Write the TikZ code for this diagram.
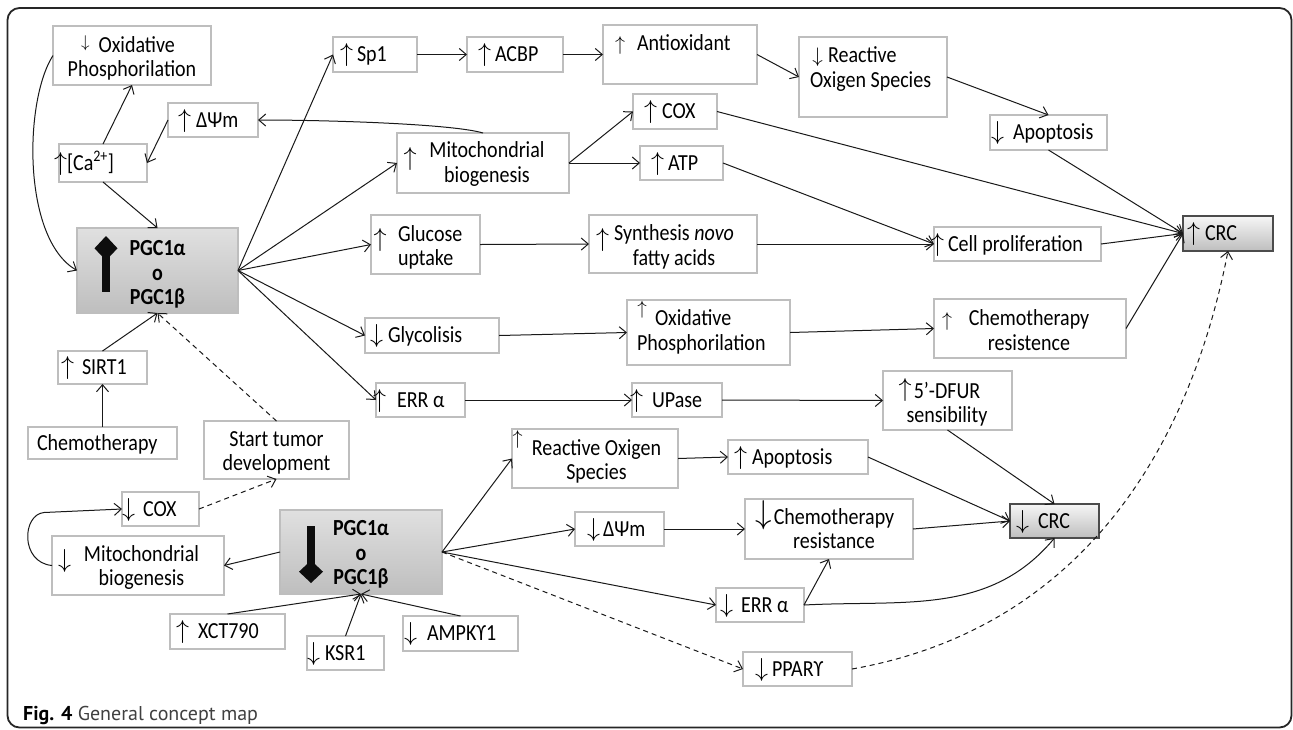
\RequirePackage{fix-cm}
\documentclass[tikz,border=0pt]{standalone}
\usepackage{fontspec}
\setmainfont{Carlito}[FakeStretch=0.87]
\newfontfamily\capfont{PT Sans}
\usetikzlibrary{arrows.meta}
\definecolor{boxgray}{RGB}{190,190,190}
\definecolor{pgctop}{RGB}{224,224,224}
\definecolor{pgcbot}{RGB}{190,190,190}
\definecolor{crctop}{RGB}{246,246,246}
\definecolor{crcbot}{RGB}{190,190,190}
\newcommand\mainfs{\fontsize{23}{24.5}\selectfont}
\newcommand\ArU{{\fontsize{26}{26}\selectfont$\uparrow$}}
\newcommand\ArD{{\fontsize{26}{26}\selectfont$\downarrow$}}
\newcommand\ArUm{{\fontsize{20}{20}\selectfont$\uparrow$}}
\newcommand\ArDm{{\fontsize{21}{21}\selectfont$\downarrow$}}
\newcommand\ArUs{{\fontsize{19}{19}\selectfont$\uparrow$}}
\newcommand\ArDs{{\fontsize{17}{17}\selectfont$\downarrow$}}
\newcommand\ArDL{{\fontsize{33}{33}\selectfont$\downarrow$}}
\newcommand\Bx[6][]{%
  \pgfmathsetmacro\bxw{#5-#3}\pgfmathsetmacro\bxh{#6-#4}%
  \node[bx,#1,minimum width=\bxw pt,minimum height=\bxh pt] (#2) at ({(#3+#5)/2},{(#4+#6)/2}) {};}
\tikzset{
  bx/.style={draw=boxgray, line width=1.3pt, fill=white, inner sep=0pt, outer sep=0pt},
  pgcbox/.style={draw=boxgray, top color=pgctop, bottom color=pgcbot},
  crcbox/.style={draw=black!70, top color=crctop, bottom color=crcbot},
  txt/.style={inner sep=0pt, outer sep=0pt, font=\mainfs},
  ar/.style={draw=black!90, line width=1pt, -{Straight Barb[length=7pt,width=12pt,line width=1pt]}},
  dsh/.style={dash pattern=on 5pt off 4pt},
  frame/.style={draw=black!85, line width=1.8pt, rounded corners=12pt},
  blockarrow/.style={fill=black!95}
}
\begin{document}
\begin{tikzpicture}[x=1pt,y=-1pt]
\useasboundingbox (0,0) rectangle (1293,729);
\fill[white] (0,0) rectangle (1293,729);
\draw[frame] (7.5,8) rectangle (1291.5,727.5);

% ---------- boxes ----------
\Bx{ox1}{53}{26}{211}{85}
\Bx{dpsi1}{168}{103}{258}{137}
\Bx{ca}{59}{144}{147}{182}
\Bx[pgcbox]{pgc1}{77}{228}{238}{313}
\Bx{sirt}{58}{351}{147}{384}
\Bx{chemo}{28}{427}{177}{459}
\Bx{start}{204}{421}{349}{479}
\Bx{cox2}{122}{492}{199}{526}
\Bx{mito2}{52}{536}{224}{595}
\Bx[pgcbox]{pgc2}{280}{510}{442}{594}
\Bx{xct}{170}{614}{285}{649}
\Bx{ksr}{307}{636}{384}{670}
\Bx{ampk}{403}{616}{518}{651}
\Bx{sp1}{333}{37}{417}{72}
\Bx{acbp}{467}{37}{563}{72}
\Bx{antiox}{603}{25}{757}{84}
\Bx{ros1}{799}{37}{947}{117}
\Bx{cox1}{633}{94}{717}{129}
\Bx{atp}{640}{146}{723}{180}
\Bx{mito1}{397}{133}{569}{193}
\Bx{gluc}{371}{215}{480}{274}
\Bx{synth}{589}{215}{757}{273}
\Bx{apo1}{990}{115}{1107}{150}
\Bx[crcbox]{crc1}{1183}{216}{1273}{251}
\Bx{cellp}{934}{227}{1101}{261}
\Bx{glyc}{365}{318}{499}{353}
\Bx{ox2}{627}{300}{790}{365}
\Bx{chemres1}{934}{299}{1126}{358}
\Bx{err1}{376}{383}{465}{417}
\Bx{upase}{632}{383}{722}{417}
\Bx{dfur}{883}{371}{1012}{430}
\Bx{ros2}{512}{429}{678}{488}
\Bx{apo2}{728}{440}{868}{474}
\Bx{dpsi2}{575}{512}{664}{546}
\Bx{chemres2}{745}{499}{913}{559}
\Bx{err2}{716}{588}{804}{622}
\Bx{ppar}{743}{652}{852}{686}
\Bx[crcbox]{crc2}{1010}{504}{1099}{538}

% ---------- block arrows in PGC boxes ----------
\fill[blockarrow] (101.7,255) rectangle (110,292.3);
\fill[blockarrow] (106,236) -- (117.5,248.3) -- (106,260.5) -- (94.5,248.3) -- cycle;
\fill[blockarrow] (306.7,526) rectangle (315,565);
\fill[blockarrow] (311,583) -- (323,571.7) -- (311,560.4) -- (299,571.7) -- cycle;

% ---------- single-line texts ----------
\node[txt,anchor=base west] (dpsi1t) at (196,127.3) {\llap{\ArU\hspace{5pt}}ΔΨm};
\node[txt,anchor=base west] (cat) at (67,170.3) {\llap{\ArU\hspace{0pt}}[Ca\textsuperscript{2+}]};
\node[txt,anchor=base west] (sirtt) at (82,374.8) {\llap{\ArU\hspace{8pt}}SIRT1};
\node[txt,anchor=base west] (chemot) at (37,450.3) {Chemotherapy};
\node[txt,anchor=base west] (cox2t) at (143,516.3) {\llap{\ArD\hspace{8pt}}COX};
\node[txt,anchor=base west] (xctt) at (198,638.8) {\llap{\ArU\hspace{9pt}}XCT790};
\node[txt,anchor=base west] (ksrt) at (325,660.3) {\llap{\ArD\hspace{5pt}}KSR1};
\node[txt,anchor=base west] (ampkt) at (427,640.8) {\llap{\ArD\hspace{10pt}}AMPKϒ1};
\node[txt,anchor=base west] (sp1t) at (357,61.8) {\llap{\ArU\hspace{4pt}}Sp1};
\node[txt,anchor=base west] (acbpt) at (495,61.8) {\llap{\ArU\hspace{4pt}}ACBP};
\node[txt,anchor=base west] (antioxt) at (637,50.8) {\llap{\ArUm\hspace{12pt}}Antioxidant};
\node[txt,anchor=base west] (cox1t) at (662,118.8) {\llap{\ArU\hspace{5pt}}COX};
\node[txt,anchor=base west] (atpt) at (668,170.3) {\llap{\ArU\hspace{4pt}}ATP};
\node[txt,anchor=base west] (apo1t) at (1013,139.8) {\llap{\ArD\hspace{9pt}}Apoptosis};
\node[txt,anchor=base west] (crc1t) at (1205,240.8) {\llap{\ArU\hspace{5pt}}CRC};
\node[txt,anchor=base west] (cellpt) at (948,251.3) {\llap{\ArU\hspace{4pt}}Cell proliferation};
\node[txt,anchor=base west] (glyct) at (388,342.8) {\llap{\ArD\hspace{5pt}}Glycolisis};
\node[txt,anchor=base west] (err1t) at (397,407.3) {\llap{\ArU\hspace{11pt}}ERR α};
\node[txt,anchor=base west] (upaset) at (652,407.3) {\llap{\ArU\hspace{9pt}}UPase};
\node[txt,anchor=base west] (apo2t) at (752,464.3) {\llap{\ArU\hspace{5pt}}Apoptosis};
\node[txt,anchor=base west] (dpsi2t) at (603,536.3) {\llap{\ArD\hspace{3pt}}ΔΨm};
\node[txt,anchor=base west] (err2t) at (741,612.3) {\llap{\ArD\hspace{8pt}}ERR α};
\node[txt,anchor=base west] (ppart) at (772,676.3) {\llap{\ArD\hspace{4pt}}PPARϒ};
\node[txt,anchor=base west] (crc2t) at (1038,528.3) {\llap{\ArD\hspace{9pt}}CRC};

% ---------- multi-line texts ----------
\node[txt,align=center] (ox1t) at (132,58) {\hbox{\raisebox{5pt}{\ArDs}\hspace{9pt}Oxidative\hspace{8pt}}\\Phosphorilation};
\node[txt,align=center] (mito1t) at (487,164) {Mitochondrial\\biogenesis};
\node[txt] (mito1a) at (410,159) {\ArU};
\node[txt,align=left,anchor=west] (gluct) at (398,247.5) {Glucose\\uptake};
\node[txt] (gluca) at (380,240) {\ArU};
\node[txt,align=center] (syntht) at (674,247) {Synthesis \textit{novo}\\fatty acids};
\node[txt] (syntha) at (602.5,240) {\ArU};
\node[txt,align=left,anchor=west] (ox2t) at (637,332) {\hspace*{18pt}Oxidative\\Phosphorilation};
\node[txt] (ox2a) at (642,310) {\ArUs};
\node[txt,align=left,anchor=west] (ros1t) at (810,69) {\hspace*{18pt}Reactive\\Oxigen Species};
\node[txt] (ros1a) at (817.5,57.5) {\ArDm};
\node[txt,align=center] (chemres1t) at (1029,330) {Chemotherapy\\resistence};
\node[txt] (chemres1a) at (947,321.5) {\ArUm};
\node[txt,align=center] (dfurt) at (947,404) {5’-DFUR\\sensibility};
\node[txt] (dfura) at (905,389.5) {\ArU};
\node[txt,align=center] (ros2t) at (596.5,461.5) {Reactive Oxigen\\Species};
\node[txt] (ros2a) at (517.5,439) {\ArUm};
\node[txt,align=center] (chemres2t) at (834,528.5) {Chemotherapy\\resistance};
\node[txt] (chemres2a) at (763.5,515) {\ArDL};
\node[txt,align=center] (startt) at (276.5,453) {Start tumor\\development};
\node[txt,align=center] (mito2t) at (141.5,567.5) {Mitochondrial\\biogenesis};
\node[txt] (mito2a) at (64.5,560.5) {\ArD};
\node[txt,align=center,font=\mainfs\bfseries] (pgc1t) at (157.5,274.8) {PGC1α\\o\\PGC1β};
\node[txt,align=center,font=\mainfs\bfseries] (pgc2t) at (361,554.8) {PGC1α\\o\\PGC1β};

% ---------- caption ----------
\node[inner sep=0pt, anchor=base west, font=\capfont\fontsize{20}{24}\selectfont] (cap) at (23,720)
  {\textbf{Fig. 4} \textcolor{black!75}{General concept map}};

% ---------- connectors: upper left ----------
\draw[ar] (ca.north) -- (ox1.south);
\draw[ar] (dpsi1.west) -- (ca.east);
\draw[ar] (mito1.north) .. controls +(-30,-9) and +(72,0) .. (dpsi1.east);
\draw[ar] (ca.south) -- (pgc1.north);
\draw[ar] (ox1.west) .. controls +(-29,45) and +(-55,-32) .. (pgc1.west);
\draw[ar] (sirt.north) -- (pgc1.south);
\draw[ar] (chemo.north) -- (sirt.south);
\draw[ar,dsh] (start.north) -- (pgc1.south);

% ---------- connectors: lower left ----------
\draw[ar,dsh] (cox2.east) -- (start.south);
\coordinate (loopc) at (44,512.5);
\draw[ar] (mito2.west) .. controls +(-32,-3) and +(-22,2) .. (loopc) -- (cox2.west);
\draw[ar] (pgc2.west) -- (mito2.east);
\draw[ar] (xct.north) -- (pgc2.south);
\draw[ar] (ksr.north) -- (pgc2.south);
\draw[ar] (ampk.north) -- (pgc2.south);

% ---------- fan from upper PGC ----------
\foreach \t in {sp1,mito1,gluc,glyc,err1} \draw[ar] (pgc1.east) -- (\t.west);

% ---------- upper chains ----------
\draw[ar] (sp1.east) -- (acbp.west);
\draw[ar] (acbp.east) -- (antiox.west);
\draw[ar] (antiox.east) -- (ros1.west);
\draw[ar] (ros1.east) -- (apo1.north);
\draw[ar] (apo1.south) -- (crc1.west);
\draw[ar] (mito1.east) -- (cox1.west);
\draw[ar] (mito1.east) -- (atp.west);
\draw[ar] (cox1.east) -- (crc1.west);
\draw[ar] (atp.east) -- (cellp.west);
\draw[ar] (gluc.east) -- (synth.west);
\draw[ar] (synth.east) -- (cellp.west);
\draw[ar] (cellp.east) -- (crc1.west);
\draw[ar] (glyc.east) -- (ox2.west);
\draw[ar] (ox2.east) -- (chemres1.west);
\draw[ar] (chemres1.east) -- (crc1.west);
\draw[ar] (err1.east) -- (upase.west);
\draw[ar] (upase.east) -- (dfur.west);
\draw[ar] (dfur.south) -- (crc2.north);

% ---------- fan from lower PGC ----------
\draw[ar] (pgc2.east) -- (ros2.west);
\draw[ar] (pgc2.east) -- (dpsi2.west);
\draw[ar] (pgc2.east) -- (err2.west);
\draw[ar,dsh] (pgc2.east) -- (ppar.west);

% ---------- lower chains ----------
\draw[ar] (ros2.east) -- (apo2.west);
\draw[ar] (dpsi2.east) -- (chemres2.west);
\draw[ar] (apo2.east) -- (crc2.west);
\draw[ar] (chemres2.east) -- (crc2.west);
\draw[ar] (err2.east) -- (chemres2.south);
\draw[ar] (err2.east) to[out=3,in=230] (crc2.south);
\draw[ar,dsh] (ppar.east) to[out=10,in=259] (crc1.south);
\end{tikzpicture}
\end{document}
